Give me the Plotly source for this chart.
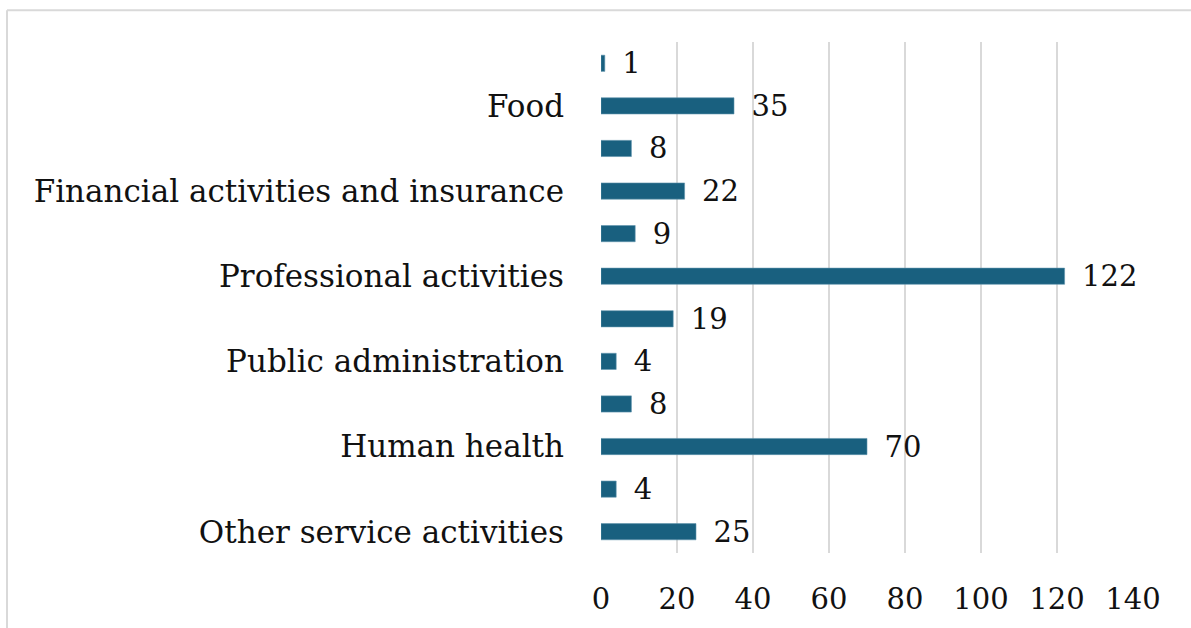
import plotly.graph_objects as go

# Categories from top to bottom as drawn
categories = [
    "Transportation and storage",
    "Food",
    "Information and communication",
    "Financial activities and insurance",
    "Real estate activities",
    "Professional activities",
    "Administrative activities",
    "Public administration",
    "Education",
    "Human health",
    "Arts and entertainment",
    "Other service activities",
]
values = [1, 35, 8, 22, 9, 122, 19, 4, 8, 70, 4, 25]
shown_labels = [
    "Food",
    "Financial activities and insurance",
    "Professional activities",
    "Public administration",
    "Human health",
    "Other service activities",
]
x_ticks = [0, 20, 40, 60, 80, 100, 120, 140]

FONT = "DejaVu Serif"
FS = 29
FS_Y = 31
BAR = "#19607f"

fig = go.Figure(
    go.Bar(
        y=categories,
        x=values,
        orientation="h",
        marker=dict(color=BAR, line=dict(color="#5f93ad", width=0.6)),
        text=values,
        texttemplate="\u2002%{x}",
        textposition="outside",
        constraintext="none",
        cliponaxis=False,
        textfont=dict(family=FONT, size=FS, color="#111111"),
        width=0.38,
    )
)

W, H = 1191, 628
L, R, T, B = 601, 58, 42, 72
pw, ph = W - L - R, H - T - B

def px_x(p):
    return (p - L) / pw

def px_y(p):
    return (H - B - p) / ph

fig.update_layout(
    width=W,
    height=H,
    margin=dict(l=L, r=R, t=T, b=B),
    paper_bgcolor="white",
    plot_bgcolor="white",
    showlegend=False,
    font=dict(family=FONT, size=FS, color="#111111"),
    xaxis=dict(
        range=[0, 140],
        tickvals=x_ticks,
        showgrid=True,
        gridcolor="#d9d9d9",
        gridwidth=1.6,
        zeroline=False,
        showline=False,
        ticks="",
        ticklabelstandoff=26,
        tickfont=dict(family=FONT, size=FS, color="#111111"),
        fixedrange=True,
    ),
    yaxis=dict(
        categoryorder="array",
        categoryarray=categories[::-1],
        tickmode="array",
        tickvals=shown_labels,
        ticktext=shown_labels,
        showgrid=False,
        zeroline=False,
        showline=False,
        ticks="",
        ticklabelstandoff=36,
        tickfont=dict(family=FONT, size=FS_Y, color="#111111"),
        range=[-0.5, 11.5],
    ),
    shapes=[
        dict(type="line", xref="paper", yref="paper",
             x0=px_x(7), x1=px_x(1200), y0=px_y(10), y1=px_y(10),
             line=dict(color="#d9d9d9", width=2)),
        dict(type="line", xref="paper", yref="paper",
             x0=px_x(7), x1=px_x(7), y0=px_y(10), y1=px_y(640),
             line=dict(color="#d9d9d9", width=2)),
    ],
)

fig.write_html("out.html")
